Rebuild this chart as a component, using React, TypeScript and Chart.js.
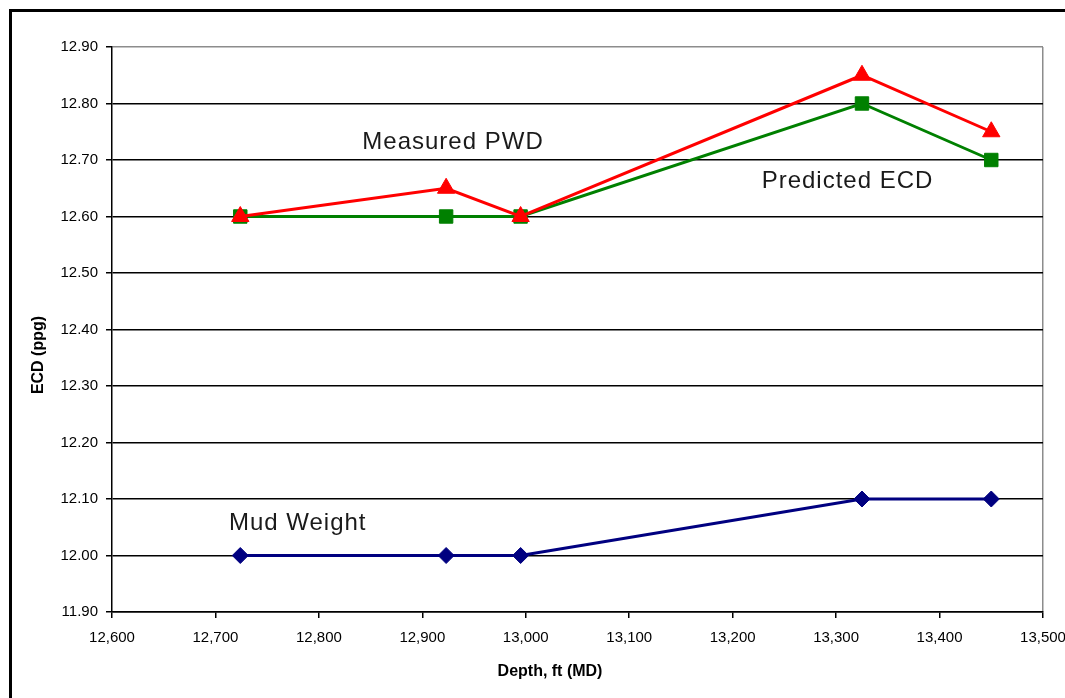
import React, { useEffect, useRef } from 'react';
import { Chart, registerables } from 'chart.js';

Chart.register(...registerables);

// ---- data ----
const depthFt = [12724, 12923, 12995, 13325, 13450];
const measuredPWD = [12.6, 12.65, 12.6, 12.85, 12.75];
const predictedECD = [12.6, 12.6, 12.6, 12.8, 12.7];
const mudWeight = [12.0, 12.0, 12.0, 12.1, 12.1];
const seriesNames = ['Measured PWD', 'Predicted ECD', 'Mud Weight'];
const xAxisTitle = 'Depth, ft (MD)';
const yAxisTitle = 'ECD (ppg)';
const xMin = 12600;
const xMax = 13500;
const xStep = 100;
const yMin = 11.9;
const yMax = 12.9;
const yStep = 0.1;

// in-chart series labels, anchored in data coordinates (left, baseline)
const seriesLabelAnchors = [
  { text: seriesNames[0], x: 12842, y: 12.72 },
  { text: seriesNames[1], x: 13228, y: 12.65 },
  { text: seriesNames[2], x: 12713, y: 12.045 },
];

const FONT = '"Liberation Sans", Arial, sans-serif';

const textPlugin = {
  id: 'textPlugin',
  afterDraw(chart: any) {
    const ctx = chart.ctx;
    const xs = chart.scales.x;
    const ys = chart.scales.y;
    ctx.save();
    // series labels
    ctx.fillStyle = '#1a1a1a';
    ctx.font = `24px ${FONT}`;
    (ctx as any).letterSpacing = '1px';
    ctx.textAlign = 'left';
    ctx.textBaseline = 'alphabetic';
    for (const a of seriesLabelAnchors) {
      ctx.fillText(a.text, xs.getPixelForValue(a.x), ys.getPixelForValue(a.y));
    }
    (ctx as any).letterSpacing = '0px';
    // axis titles
    ctx.fillStyle = '#000';
    ctx.font = `bold 16px ${FONT}`;
    ctx.textAlign = 'center';
    ctx.textBaseline = 'middle';
    ctx.fillText(xAxisTitle, 550, 672);
    ctx.translate(39, 355);
    ctx.rotate(-Math.PI / 2);
    ctx.fillText(yAxisTitle, 0, 0);
    ctx.restore();
  },
};

export default function App() {
  const ref = useRef<HTMLCanvasElement | null>(null);

  useEffect(() => {
    if (!ref.current) return;
    const toPts = (ys: number[]) => depthFt.map((d, i) => ({ x: d, y: ys[i] }));
    const chart = new Chart(ref.current, {
      type: 'line',
      data: {
        datasets: [
          {
            label: seriesNames[0],
            data: toPts(measuredPWD),
            borderColor: '#ff0000',
            backgroundColor: '#ff0000',
            borderWidth: 3,
            pointStyle: 'triangle',
            pointRadius: 10,
            pointBorderWidth: 1,
            pointHoverRadius: 10,
            tension: 0,
          },
          {
            label: seriesNames[1],
            data: toPts(predictedECD),
            borderColor: '#008000',
            backgroundColor: '#008000',
            borderWidth: 3,
            pointStyle: 'rect',
            pointRadius: 9.5,
            pointBorderWidth: 1,
            pointHoverRadius: 9.5,
            tension: 0,
          },
          {
            label: seriesNames[2],
            data: toPts(mudWeight),
            borderColor: '#000080',
            backgroundColor: '#000080',
            borderWidth: 3,
            pointStyle: 'rectRot',
            pointRadius: 8,
            pointBorderWidth: 1,
            pointHoverRadius: 8,
            tension: 0,
          },
        ],
      },
      options: {
        responsive: false,
        animation: false,
        events: [],
        layout: { padding: { left: 0, top: 47, right: 22, bottom: 0 } },
        plugins: {
          legend: { display: false },
          tooltip: { enabled: false },
          title: { display: false },
        },
        scales: {
          x: {
            type: 'linear',
            min: xMin,
            max: xMax,
            afterFit: (s: any) => {
              s.height = 86;
              s.paddingLeft = 0;
              s.paddingRight = 0;
            },
            afterBuildTicks: (s: any) => {
              const t = [];
              for (let v = xMin; v <= xMax; v += xStep) t.push({ value: v });
              s.ticks = t;
            },
            ticks: {
              color: '#000',
              font: { family: FONT, size: 15 },
              padding: 11,
              maxRotation: 0,
              autoSkip: false,
              callback: (v: any) => Number(v).toLocaleString('en-US'),
            },
            grid: {
              color: (c: any) => (c.tick && Math.abs(c.tick.value - xMax) < 1e-6 ? '#8c8c8c' : 'rgba(0,0,0,0)'),
              tickColor: '#000',
              tickLength: 6,
              lineWidth: 1.5,
            },
            border: { display: true, color: '#000', width: 1.5 },
          },
          y: {
            type: 'linear',
            min: yMin,
            max: yMax,
            afterFit: (s: any) => {
              s.width = 112;
              s.paddingTop = 0;
              s.paddingBottom = 0;
            },
            afterBuildTicks: (s: any) => {
              const t = [];
              const n = Math.round((yMax - yMin) / yStep);
              for (let i = 0; i <= n; i++) t.push({ value: +(yMin + i * yStep).toFixed(2) });
              s.ticks = t;
            },
            ticks: {
              color: '#000',
              font: { family: FONT, size: 15 },
              padding: 8,
              autoSkip: false,
              callback: (v: any) => Number(v).toFixed(2),
            },
            grid: {
              color: (c: any) => (c.tick && Math.abs(c.tick.value - yMax) < 1e-6 ? '#8c8c8c' : '#000'),
              tickColor: '#000',
              tickLength: 6,
              lineWidth: 1.5,
            },
            border: { display: true, color: '#000', width: 1.5 },
          },
        },
      },
      plugins: [textPlugin],
    });
    return () => chart.destroy();
  }, []);

  return (
    <div style={{ position: 'absolute', left: 0, top: 0, width: 1065, height: 698, background: '#fff', overflow: 'hidden' }}>
      <canvas ref={ref} width={1065} height={698} style={{ position: 'absolute', left: 0, top: 0, display: 'block' }} />
      <div
        style={{
          position: 'absolute',
          left: 9,
          top: 9,
          width: 1100,
          height: 720,
          border: '3px solid #000',
          boxSizing: 'border-box',
          pointerEvents: 'none',
        }}
      />
    </div>
  );
}
